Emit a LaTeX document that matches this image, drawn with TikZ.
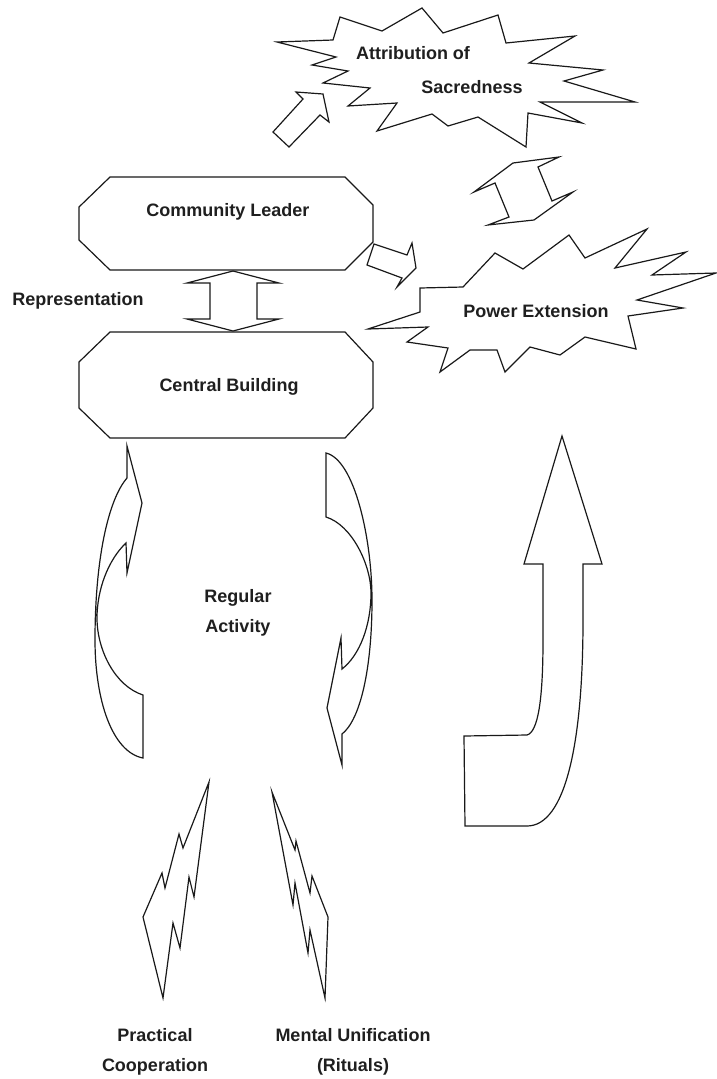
\documentclass[tikz,border=0pt]{standalone}
\usepackage{fontspec}
\setmainfont{Liberation Sans}
\begin{document}
\begin{tikzpicture}[x=1pt,y=-1pt,
  outline/.style={draw=black!90, line width=1.2pt, line join=miter, miter limit=20},
  lbl/.style={font=\bfseries\fontsize{18}{30}\selectfont, align=center, text=black!88, inner sep=0pt}]
\useasboundingbox (0,0) rectangle (717,1079);

% --- burst shapes ---
\draw[outline] (277,42) -- (333,40) -- (340,17) -- (382,31) -- (422,8) -- (443,33)
  -- (498,15) -- (506,43) -- (575,36) -- (529,63) -- (603,70) -- (564,81)
  -- (635,102) -- (540,102) -- (582,123) -- (528,113) -- (526,147) -- (478,117)
  -- (448,126) -- (432,114) -- (377,131) -- (397,103) -- (348,106) -- (370,88)
  -- (323,83) -- (348,71) -- (312,65) -- (336,57) -- cycle;
\draw[outline] (420,288) -- (463,287) -- (495,253) -- (523,269) -- (569,235)
  -- (585,258) -- (647,229) -- (615,268) -- (686,252) -- (652,275) -- (716,273)
  -- (637,300) -- (683,308) -- (628,316) -- (636,349) -- (585,337) -- (560,355)
  -- (530,347) -- (505,372) -- (497,350) -- (470,350) -- (440,372) -- (448,348)
  -- (407,342) -- (428,327) -- (368,329) -- (420,312) -- cycle;

% --- octagonal boxes ---
\draw[outline] (110,177) -- (345,177) -- (373,205) -- (373,242) -- (345,270)
  -- (110,270) -- (79,240) -- (79,207) -- cycle;
\draw[outline] (110,332) -- (345,332) -- (373,362) -- (373,408) -- (345,438)
  -- (110,438) -- (79,408) -- (79,362) -- cycle;

% --- block arrows ---
% representation (double, vertical)
\draw[outline] (233,271) -- (279,283) -- (257,283) -- (257,319) -- (279,319)
  -- (233,331) -- (187,319) -- (210,319) -- (210,283) -- (187,283) -- cycle;
% to attribution of sacredness
\draw[outline] (323,94) -- (329,122) -- (320,115) -- (289,147) -- (273,132)
  -- (303,99) -- (296,92) -- cycle;
% to power extension
\draw[outline] (374,244) -- (407,255) -- (412,243) -- (416,268) -- (397,287)
  -- (402,278) -- (367,265) -- cycle;
% between the two bursts
\draw[outline] (513,163) -- (559,157) -- (538,167) -- (552,201) -- (573,192)
  -- (534,220) -- (488,225) -- (509,217) -- (495,183) -- (474,192) -- cycle;

% regular activity, left curved arrow
\draw[outline] (127,446) -- (142,503) -- (127,573) -- (126,543)
  .. controls (108,560) and (97,590) .. (97,618)
  .. controls (97,650) and (115,686) .. (143,695)
  -- (143,758)
  .. controls (112,752) and (95,700) .. (95,640)
  .. controls (95,560) and (108,500) .. (127,478) -- cycle;
% regular activity, right curved arrow
\draw[outline] (326,453) .. controls (355,460) and (372,540) .. (372,600)
  .. controls (372,670) and (360,720) .. (342,734)
  -- (342,765) -- (327,708) -- (341,638) -- (342,669)
  .. controls (360,655) and (371,625) .. (371,593)
  .. controls (371,565) and (352,525) .. (326,517) -- cycle;

% rising arrow on the right
\draw[outline] (562,436) -- (602,564) -- (583,564) -- (583,620)
  .. controls (583,745) and (565,826) .. (527,826)
  -- (465,826) -- (464,736) -- (527,735)
  .. controls (538,732) and (543,700) .. (543,640)
  -- (543,564) -- (524,564) -- cycle;

% lightning bolts
\draw[outline] (209,782) -- (183,848) -- (179,834) -- (165,888) -- (162,873)
  -- (143,917) -- (163,998) -- (173,923) -- (180,948) -- (189,877) -- (194,897) -- cycle;
\draw[outline] (272,792) -- (295,850) -- (296,841) -- (310,893) -- (312,876)
  -- (328,917) -- (325,998) -- (310,930) -- (308,953) -- (295,883) -- (293,905) -- cycle;

% --- labels ---
\node[lbl] (sacredA) at (413,53) {Attribution of};
\node[lbl] (sacredB) at (472,87) {Sacredness};
\node[lbl] (power) at (536,311) {Power Extension};
\node[lbl] (leader) at (228,212) {Community Leader};
\node[lbl] (building) at (229,387) {Central Building};
\node[lbl] (repr) at (78,301) {Representation};
\node[lbl] (activity) at (238,613) {Regular\\Activity};
\node[lbl] (practical) at (155,1052) {Practical\\Cooperation};
\node[lbl] (mental) at (353,1052) {Mental Unification\\(Rituals)};
\end{tikzpicture}
\end{document}
